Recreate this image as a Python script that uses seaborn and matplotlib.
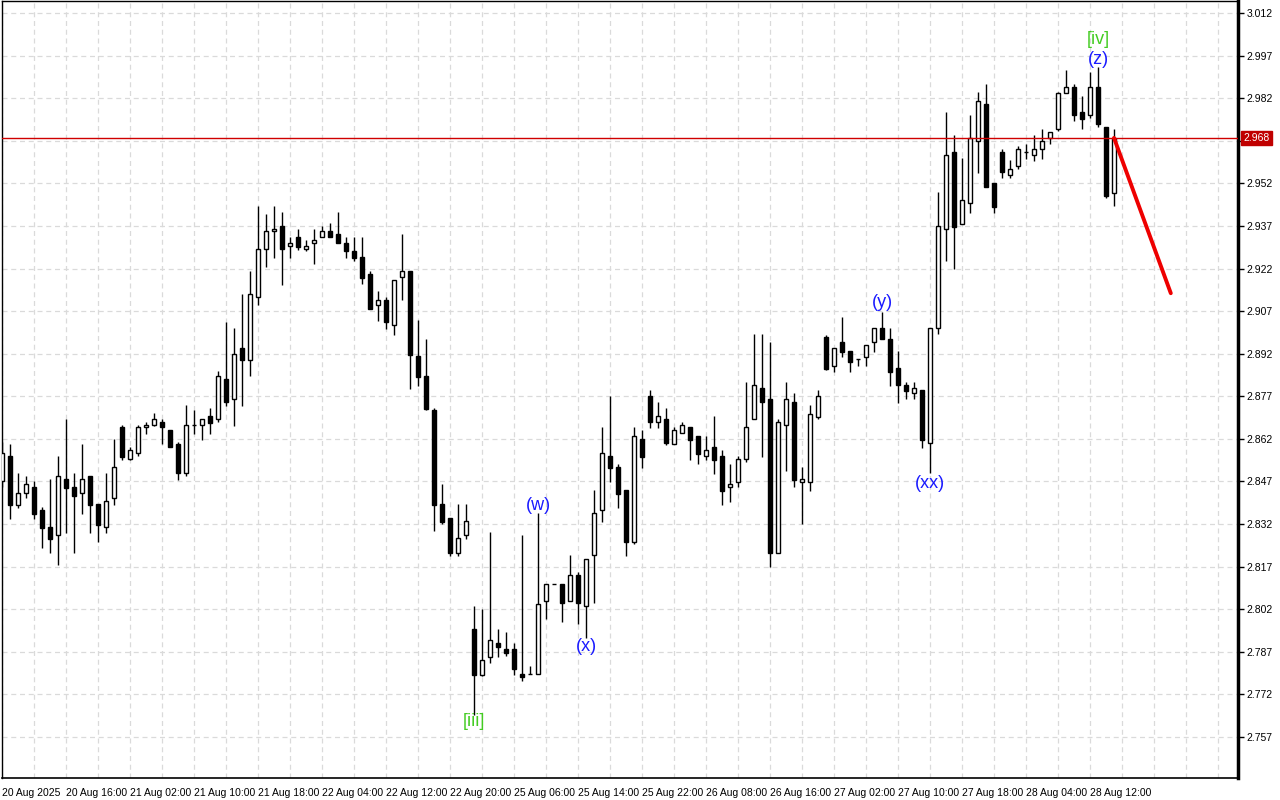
import matplotlib
matplotlib.use("Agg")
import matplotlib.pyplot as plt
import numpy as np
import pandas as pd
import seaborn as sns

# ---------------- data ----------------
opens = [2.847, 2.856, 2.8388, 2.8428, 2.8449, 2.837, 2.831, 2.828, 2.8478, 2.8449,
         2.8428, 2.8488, 2.839, 2.8309, 2.8411, 2.866, 2.8548, 2.8569, 2.8661, 2.8669,
         2.8678, 2.865, 2.8602, 2.8499, 2.8669, 2.8669, 2.8701, 2.8689, 2.8831, 2.8759,
         2.8939, 2.8899, 2.9119, 2.9288, 2.9351, 2.9369, 2.9298, 2.933, 2.9288, 2.9309,
         2.933, 2.9351, 2.934, 2.9309, 2.9281, 2.9261, 2.92, 2.909, 2.9108, 2.9021,
         2.9189, 2.921, 2.8912, 2.8841, 2.8722, 2.839, 2.8341, 2.8219, 2.828, 2.795,
         2.7789, 2.785, 2.79, 2.7879, 2.7879, 2.779, 2.779, 2.779, 2.8048, 2.8108,
         2.8108, 2.8048, 2.814, 2.803, 2.821, 2.8368, 2.8558, 2.852, 2.844, 2.8258,
         2.8618, 2.8771, 2.8678, 2.8689, 2.8601, 2.864, 2.866, 2.8629, 2.8558, 2.859,
         2.8558, 2.8449, 2.8469, 2.8548, 2.869, 2.8798, 2.8759, 2.8219, 2.8668, 2.8749,
         2.8469, 2.8469, 2.8698, 2.8978, 2.8878, 2.8961, 2.893, 2.8901, 2.891, 2.896,
         2.901, 2.897, 2.8869, 2.8809, 2.878, 2.8792, 2.8607, 2.901, 2.9358, 2.963,
         2.9378, 2.945, 2.9668, 2.98, 2.952, 2.963, 2.9548, 2.958, 2.963, 2.9619,
         2.964, 2.9678, 2.971, 2.984, 2.9858, 2.977, 2.9759, 2.9858, 2.972, 2.9487]
highs = [2.861, 2.8603, 2.8501, 2.849, 2.8472, 2.8379, 2.8479, 2.856, 2.869, 2.85,
         2.8602, 2.8488, 2.839, 2.85, 2.862, 2.8669, 2.8592, 2.8669, 2.8678, 2.871,
         2.869, 2.8651, 2.8608, 2.8738, 2.872, 2.869, 2.8728, 2.8859, 2.9032, 2.901,
         2.913, 2.9211, 2.944, 2.9412, 2.944, 2.9419, 2.933, 2.936, 2.932, 2.936,
         2.9369, 2.938, 2.9419, 2.933, 2.933, 2.933, 2.921, 2.914, 2.9119, 2.918,
         2.934, 2.921, 2.9039, 2.8972, 2.8728, 2.846, 2.8341, 2.839, 2.839, 2.8031,
         2.802, 2.8292, 2.795, 2.794, 2.79, 2.8281, 2.782, 2.836, 2.8108, 2.8108,
         2.8108, 2.8211, 2.815, 2.8198, 2.8439, 2.8662, 2.8772, 2.8531, 2.844, 2.8662,
         2.8651, 2.8792, 2.875, 2.8729, 2.8663, 2.868, 2.866, 2.8629, 2.8629, 2.87,
         2.858, 2.853, 2.856, 2.882, 2.899, 2.899, 2.8961, 2.869, 2.882, 2.878,
         2.852, 2.874, 2.8791, 2.8985, 2.894, 2.905, 2.893, 2.8902, 2.895, 2.901,
         2.9068, 2.901, 2.893, 2.882, 2.882, 2.8792, 2.901, 2.949, 2.977, 2.969,
         2.9608, 2.976, 2.9842, 2.987, 2.952, 2.9641, 2.9602, 2.965, 2.966, 2.969,
         2.971, 2.97, 2.9841, 2.9919, 2.987, 2.9829, 2.9912, 2.993, 2.972, 2.971]
lows = [2.845, 2.8339, 2.8377, 2.841, 2.8339, 2.8237, 2.8219, 2.8177, 2.829, 2.8219,
        2.8357, 2.829, 2.8258, 2.829, 2.8387, 2.8546, 2.8545, 2.856, 2.8638, 2.8665,
        2.8601, 2.859, 2.8475, 2.849, 2.8638, 2.8617, 2.8638, 2.868, 2.8737, 2.8667,
        2.8737, 2.884, 2.909, 2.9227, 2.9258, 2.9161, 2.9258, 2.9286, 2.928, 2.9237,
        2.933, 2.933, 2.9309, 2.9258, 2.9248, 2.9167, 2.9079, 2.9036, 2.9008, 2.8987,
        2.9108, 2.8797, 2.8807, 2.872, 2.8297, 2.8319, 2.8209, 2.8209, 2.8269, 2.7647,
        2.7785, 2.7829, 2.785, 2.7856, 2.7789, 2.7768, 2.779, 2.779, 2.7987, 2.8108,
        2.7976, 2.8048, 2.7969, 2.7917, 2.8041, 2.8328, 2.8468, 2.8376, 2.8209, 2.8249,
        2.8517, 2.8659, 2.8659, 2.86, 2.8601, 2.864, 2.8547, 2.853, 2.8547, 2.8496,
        2.8388, 2.8399, 2.8449, 2.854, 2.869, 2.8557, 2.8167, 2.8219, 2.8508, 2.8449,
        2.832, 2.8438, 2.869, 2.8862, 2.8857, 2.8908, 2.8857, 2.8878, 2.8878, 2.8927,
        2.897, 2.8807, 2.8747, 2.8759, 2.8759, 2.8589, 2.8499, 2.899, 2.9248, 2.922,
        2.9378, 2.9417, 2.9558, 2.9508, 2.9417, 2.9538, 2.9538, 2.9569, 2.9607, 2.9599,
        2.9607, 2.966, 2.9705, 2.984, 2.974, 2.971, 2.975, 2.972, 2.947, 2.944]
closes = [2.857, 2.8388, 2.8428, 2.846, 2.8357, 2.8307, 2.8269, 2.8488, 2.8448, 2.8417,
          2.8478, 2.8388, 2.8318, 2.84, 2.852, 2.8557, 2.858, 2.8661, 2.8669, 2.8689,
          2.866, 2.859, 2.8499, 2.8669, 2.867, 2.8689, 2.8677, 2.884, 2.8749, 2.8918,
          2.8899, 2.913, 2.9289, 2.9352, 2.9359, 2.9288, 2.9309, 2.9297, 2.9298, 2.932,
          2.9351, 2.933, 2.9309, 2.928, 2.9258, 2.9188, 2.9079, 2.9108, 2.903, 2.9178,
          2.921, 2.8917, 2.8839, 2.8725, 2.8388, 2.8327, 2.8219, 2.827, 2.8329, 2.7789,
          2.784, 2.791, 2.7888, 2.7867, 2.7808, 2.778, 2.779, 2.804, 2.8108, 2.8108,
          2.8041, 2.814, 2.8041, 2.8198, 2.8358, 2.8569, 2.8518, 2.8427, 2.8258, 2.8629,
          2.8557, 2.8678, 2.87, 2.8607, 2.8651, 2.8668, 2.8617, 2.8568, 2.858, 2.8547,
          2.8437, 2.846, 2.8548, 2.866, 2.8808, 2.8749, 2.8219, 2.8678, 2.8759, 2.8476,
          2.8477, 2.8709, 2.877, 2.8867, 2.8939, 2.8927, 2.8889, 2.8901, 2.895, 2.901,
          2.897, 2.8857, 2.8809, 2.8789, 2.8798, 2.8616, 2.901, 2.937, 2.9619, 2.9367,
          2.946, 2.9678, 2.9809, 2.9508, 2.9438, 2.9559, 2.9569, 2.964, 2.963, 2.964,
          2.9669, 2.97, 2.984, 2.9858, 2.9759, 2.9747, 2.9858, 2.9729, 2.9477, 2.9679]

x_tick_bars = [0, 8, 16, 24, 32, 40, 48, 56, 64, 72, 80, 88, 96, 104, 112, 120, 128, 136]
x_tick_labels = ["20 Aug 2025", "20 Aug 16:00", "21 Aug 02:00", "21 Aug 10:00",
                 "21 Aug 18:00", "22 Aug 04:00", "22 Aug 12:00", "22 Aug 20:00",
                 "25 Aug 06:00", "25 Aug 14:00", "25 Aug 22:00", "26 Aug 08:00",
                 "26 Aug 16:00", "27 Aug 02:00", "27 Aug 10:00", "27 Aug 18:00",
                 "28 Aug 04:00", "28 Aug 12:00"]
y_ticks = [3.012, 2.997, 2.982, 2.967, 2.952, 2.937, 2.922, 2.907, 2.892, 2.877,
           2.862, 2.847, 2.832, 2.817, 2.802, 2.787, 2.772, 2.757]
current_price = 2.968

wave_text = ["[iii]", "(w)", "(x)", "(y)", "(xx)", "[iv]", "(z)"]
wave_bar = [59, 67, 73, 110, 116, 137, 137]
wave_price = [2.7623, 2.8387, 2.7887, 2.9102, 2.8464, 3.0028, 2.9958]
wave_kind = ["major", "minor", "minor", "minor", "minor", "major", "minor"]

forecast_bar = [139, 146.1]
forecast_price = [2.968, 2.9133]

# ---------------- plotting ----------------
sns.set_style("white")
plt.rcParams["font.family"] = ["Liberation Sans", "DejaVu Sans"]

df = pd.DataFrame({"bar": np.arange(len(opens)), "open": opens, "high": highs,
                   "low": lows, "close": closes})
df["up"] = df["close"] >= df["open"]

fig = plt.figure(figsize=(12.8, 8), dpi=100)
ax = fig.add_axes([2 / 1280, 22 / 800, 1236 / 1280, 777 / 800])

ax.set_xlim(0, 154.5)
ax.set_ylim(2.74254, 3.01623)

# grid
ax.set_xticks(x_tick_bars)
ax.set_xticks(np.arange(0, 155, 4), minor=True)
ax.set_yticks(y_ticks)
grid_kw = dict(color="#dadada", linestyle=(0, (4, 3)), linewidth=0.9)
ax.grid(True, which="both", axis="x", **grid_kw)
ax.grid(True, which="major", axis="y", **grid_kw)
ax.set_axisbelow(True)

# wicks
ax.vlines(df["bar"], df["low"], df["high"], color="black", linewidth=1.0, zorder=2)
# bodies
body_h = df["close"] - df["open"]
colors = np.where(df["up"], "white", "black")
ax.bar(df["bar"], body_h, bottom=df["open"], width=0.62, color=colors,
       edgecolor="black", linewidth=1.0, zorder=3)

# current price line
ax.axhline(current_price, color="#d00000", linewidth=1.0, zorder=4)

# forecast line
sns.lineplot(x=forecast_bar, y=forecast_price, ax=ax, color="#ee0000",
             linewidth=2.8, zorder=5, legend=False)

# wave labels
for t, b, p, k in zip(wave_text, wave_bar, wave_price, wave_kind):
    col = "#44cc22" if k == "major" else "#1a1aff"
    ax.text(b, p, t, color=col, fontsize=13, ha="center", va="center", zorder=6)

# axes styling
for s in ["left", "top"]:
    ax.spines[s].set_linewidth(1.0)
    ax.spines[s].set_color("black")
ax.spines["bottom"].set_linewidth(1.2)
ax.spines["right"].set_linewidth(2.5)
ax.spines["bottom"].set_color("black")
ax.spines["right"].set_color("black")

ax.yaxis.tick_right()
ax.set_yticklabels(["" if abs(v - 2.967) < 1e-9 else f"{v:.3f}" for v in y_ticks])
ax.tick_params(axis="y", which="major", direction="out", length=4, width=1,
               labelsize=7.5, pad=2, colors="black", left=False, right=True)
ax.set_xticklabels(x_tick_labels)
for lab in ax.get_xticklabels():
    lab.set_horizontalalignment("left")
ax.tick_params(axis="x", which="major", direction="out", length=5, width=1,
               labelsize=7.5, pad=2, colors="black")
ax.tick_params(axis="x", which="minor", length=0)
ax.set_xlabel("")
ax.set_ylabel("")

# current price tag on the price axis
ax.annotate(f"{current_price:.3f}", xy=(1, current_price),
            xycoords=("axes fraction", "data"), xytext=(4, 0),
            textcoords="offset points", ha="left", va="center", fontsize=7.5,
            color="white", annotation_clip=False,
            bbox=dict(boxstyle="square,pad=0.2", fc="#c00000", ec="#c00000"))

fig.savefig("out.png", dpi=100)
